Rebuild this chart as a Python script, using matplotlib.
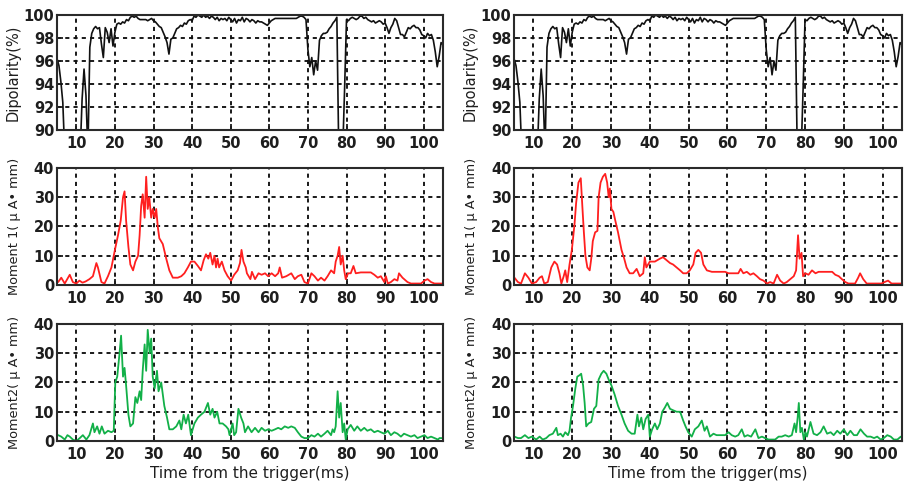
"""
Dipolarity and moment traces vs. time from the trigger (two shots side by side)
"""
import numpy as np
import matplotlib.pyplot as plt

# dipolarity (%), sampled every 0.5 ms from 5 ms; values < 90 fall off the axis
dipolarity = [
    96.2, 95.6, 94.2, 92.4, 88, 88, 88, 88, 88, 88, 88, 88, 88, 92.7, 95.3, 93.0, 88, 97.2, 98.4, 98.8,
    99.0, 98.8, 98.9, 97.5, 96.3, 98.9, 98.5, 97.6, 98.8, 97.3, 98.5, 99.2, 99.3, 99.2, 99.4, 99.3, 99.6, 99.5, 99.8, 99.9,
    99.8, 99.9, 99.7, 99.6, 99.6, 99.6, 99.6, 99.5, 99.6, 99.7, 99.5, 99.4, 99.2, 99.0, 98.9, 98.5, 98.1, 97.6, 96.6, 97.9,
    98.0, 98.4, 98.8, 98.9, 99.1, 99.0, 99.3, 99.2, 99.5, 99.6, 99.5, 99.9, 99.8, 100.0, 99.9, 99.8, 100.0, 99.8, 99.9, 99.7,
    99.9, 99.8, 99.6, 99.8, 99.5, 99.7, 99.6, 99.7, 99.5, 99.8, 99.6, 99.4, 99.7, 99.3, 99.6, 99.5, 99.8, 99.4, 99.7, 99.6,
    99.4, 99.6, 99.5, 99.3, 99.5, 99.4, 99.4, 99.3, 99.2, 99.1, 99.3, 99.5, 99.6, 99.7, 99.7, 99.7, 99.7, 99.7, 99.7, 99.7,
    99.7, 99.7, 99.7, 99.7, 99.7, 99.8, 99.9, 99.9, 99.8, 99.6, 97.0, 95.5, 96.3, 94.8, 96.0, 95.2, 97.8, 98.2, 98.4, 98.4,
    98.5, 98.8, 99.0, 99.3, 99.5, 99.8, 88, 88, 88, 93.5, 99.6, 99.5, 99.7, 99.8, 99.7, 99.6, 99.7, 99.9, 99.9, 99.7,
    99.8, 99.6, 99.5, 99.4, 99.5, 99.3, 99.4, 99.5, 99.4, 99.2, 99.3, 98.9, 98.4, 98.9, 99.2, 99.7, 99.5, 98.9, 98.3, 98.3,
    98.1, 98.5, 98.9, 98.8, 99.0, 99.1, 98.9, 98.9, 98.7, 98.3, 98.2, 98.0, 98.4, 98.2, 98.3, 97.8, 96.8, 95.5, 96.4, 97.6, 97.4,
]

# (time ms, moment uA*mm)
moment1_left = [
    (5.0, 1.5), (5.3, 1.0), (6.1, 2.5), (7.0, 0.5), (8.3, 3.5), (9.1, 1.0), (10.0, 0.5), (10.8, 1.5), (11.6, 0.8),
    (12.4, 1.2), (13.4, 2.0), (14.3, 3.0), (15.2, 7.5), (15.6, 6.0), (16.5, 1.0), (17.3, 0.5), (18.2, 3.0), (19.1, 6.0),
    (20.0, 12.0), (20.8, 17.0), (21.5, 22.0), (22.1, 30.0), (22.5, 32.0), (22.9, 22.0), (23.5, 13.0), (24.0, 7.0),
    (24.7, 5.0), (25.3, 8.0), (26.0, 10.0), (26.4, 17.0), (26.8, 27.0), (27.2, 31.0), (27.7, 23.0), (28.1, 37.0),
    (28.5, 26.0), (28.9, 30.0), (29.4, 23.0), (29.8, 26.0), (30.3, 23.0), (30.7, 26.0), (31.1, 20.0), (31.5, 16.0),
    (32.4, 14.0), (33.3, 9.0), (34.1, 5.0), (35.0, 2.5), (36.3, 2.5), (37.2, 3.0), (38.0, 4.0), (38.9, 6.0), (39.7, 8.0),
    (40.6, 8.0), (41.5, 6.5), (42.3, 5.0), (43.0, 8.5), (43.6, 10.5), (44.2, 9.0), (44.7, 11.0), (45.3, 7.0), (45.8, 10.0),
    (46.2, 6.0), (46.6, 9.0), (47.0, 6.0), (47.7, 8.0), (48.4, 5.0), (49.2, 3.0), (50.1, 1.5), (50.9, 3.5), (51.8, 5.0),
    (52.4, 7.5), (52.8, 12.0), (53.3, 8.0), (53.9, 6.0), (54.2, 4.0), (55.1, 2.0), (55.5, 4.5), (56.3, 2.0), (57.2, 4.0),
    (58.0, 3.5), (58.9, 4.0), (59.7, 3.0), (60.6, 4.0), (61.5, 3.0), (62.3, 4.0), (62.7, 6.0), (63.3, 2.5), (64.4, 3.0),
    (65.7, 4.0), (66.6, 2.0), (67.4, 3.0), (68.3, 3.5), (69.1, 1.0), (70.0, 0.5), (70.9, 4.0), (71.7, 3.0), (72.6, 1.5),
    (73.4, 2.5), (74.3, 1.5), (75.1, 3.0), (76.0, 5.0), (76.8, 4.0), (77.2, 8.0), (77.7, 10.0), (78.1, 13.0), (78.5, 7.0),
    (79.0, 10.0), (79.4, 5.0), (79.8, 2.0), (80.4, 4.0), (81.1, 4.0), (81.8, 6.5), (82.4, 4.0), (83.7, 4.3), (85.0, 4.3),
    (86.3, 4.3), (87.2, 3.5), (88.1, 2.5), (88.9, 3.0), (89.8, 1.0), (90.2, 3.0), (90.7, 0.5), (91.5, 1.0), (92.4, 2.0),
    (93.2, 1.5), (93.6, 4.0), (94.5, 2.5), (95.8, 1.0), (96.7, 0.5), (98.0, 0.5), (99.3, 0.5), (100.2, 1.5), (101.0, 2.0),
    (101.9, 1.0), (102.8, 0.5), (104.0, 0.5), (105.0, 0.5),
]

moment2_left = [
    (5.0, 2.0), (5.3, 2.0), (6.1, 1.5), (7.0, 0.5), (7.7, 2.0), (8.3, 1.5), (9.1, 0.5), (10.0, 0.0), (10.9, 1.0),
    (11.7, 2.0), (12.6, 0.5), (13.4, 2.0), (14.3, 6.0), (14.7, 3.0), (15.4, 5.0), (16.0, 2.5), (16.6, 5.0), (17.3, 2.5),
    (18.2, 3.5), (19.1, 3.0), (19.7, 3.5), (20.1, 20.0), (20.6, 22.0), (21.2, 30.0), (21.6, 36.0), (22.1, 22.0),
    (22.5, 25.0), (22.9, 19.0), (23.5, 9.0), (24.0, 5.0), (24.7, 6.0), (25.3, 15.0), (25.8, 13.0), (26.4, 17.0),
    (26.8, 14.0), (27.2, 24.0), (27.7, 33.0), (28.1, 24.0), (28.5, 38.0), (29.0, 30.0), (29.4, 35.0), (29.8, 22.0),
    (30.3, 18.0), (30.9, 24.0), (31.3, 17.0), (32.0, 20.0), (32.8, 12.0), (33.5, 8.0), (34.1, 4.0), (35.0, 4.0),
    (35.9, 5.0), (36.7, 7.0), (37.2, 4.0), (37.8, 9.0), (38.4, 6.0), (39.0, 9.0), (39.7, 2.0), (40.6, 6.0), (41.5, 8.0),
    (42.3, 9.0), (43.2, 10.0), (44.1, 13.0), (44.7, 9.0), (45.3, 11.0), (45.8, 8.0), (46.5, 10.0), (47.1, 6.0),
    (47.9, 6.0), (48.8, 5.0), (49.4, 4.0), (49.7, 2.0), (50.5, 6.0), (50.9, 2.0), (51.4, 3.0), (52.0, 11.0), (52.7, 8.0),
    (53.3, 6.0), (53.7, 3.0), (54.5, 5.0), (55.4, 3.0), (56.3, 4.5), (57.2, 3.0), (58.0, 4.5), (58.9, 3.5), (59.7, 4.0),
    (60.6, 3.5), (61.5, 4.0), (62.3, 4.5), (63.1, 4.0), (64.0, 5.0), (64.9, 4.5), (65.7, 5.0), (66.6, 4.5), (67.4, 3.0),
    (68.3, 1.5), (69.1, 1.0), (70.0, 1.0), (70.9, 2.0), (71.7, 1.5), (72.6, 2.5), (73.4, 1.5), (74.3, 2.5), (75.1, 3.5),
    (76.0, 2.0), (76.4, 4.0), (76.8, 3.0), (77.2, 5.0), (77.7, 17.0), (78.1, 8.0), (78.5, 13.0), (79.0, 3.0), (79.4, 6.0),
    (79.8, 0.5), (80.3, 4.0), (81.1, 5.5), (82.0, 3.5), (82.8, 5.0), (83.7, 3.5), (84.6, 4.5), (85.4, 3.5), (86.3, 4.0),
    (87.2, 3.0), (88.1, 3.5), (88.9, 3.0), (89.8, 2.5), (90.7, 3.5), (91.5, 2.0), (92.4, 3.0), (93.2, 2.5), (94.1, 1.5),
    (94.9, 2.5), (95.8, 2.0), (96.7, 1.5), (97.6, 2.0), (98.4, 1.0), (99.3, 1.5), (100.2, 2.0), (101.0, 1.0),
    (101.9, 1.5), (102.8, 1.0), (103.7, 0.5), (104.1, 1.0), (105.0, 1.0),
]

moment1_right = [
    (5.0, 2.5), (5.1, 2.5), (6.0, 1.0), (6.8, 0.5), (7.8, 4.0), (8.7, 2.5), (9.6, 0.5), (10.7, 1.0), (11.6, 2.5),
    (12.2, 3.0), (12.8, 0.5), (13.7, 1.0), (14.6, 6.0), (15.4, 8.0), (16.1, 7.0), (16.7, 4.0), (17.2, 0.5), (17.8, 3.0),
    (18.2, 5.0), (18.7, 1.0), (19.3, 7.0), (19.9, 12.0), (20.6, 21.0), (21.0, 28.0), (21.6, 35.0), (22.2, 36.5),
    (22.6, 27.0), (23.0, 18.0), (23.4, 10.0), (23.9, 6.0), (24.5, 5.0), (24.9, 9.0), (25.3, 15.0), (25.9, 18.0),
    (26.5, 18.5), (26.8, 30.0), (27.3, 35.0), (27.9, 37.0), (28.5, 38.0), (29.0, 35.0), (29.4, 30.0), (29.7, 33.0),
    (30.1, 26.0), (30.6, 25.0), (31.1, 22.0), (31.8, 18.0), (32.7, 12.0), (33.4, 9.0), (34.0, 6.0), (34.8, 4.0),
    (35.7, 4.0), (36.6, 5.5), (37.4, 3.0), (38.3, 4.0), (38.7, 9.5), (39.1, 6.0), (40.0, 8.0), (41.3, 8.0), (42.6, 9.0),
    (43.4, 9.5), (44.3, 8.5), (45.2, 7.5), (46.0, 7.0), (46.9, 6.0), (47.8, 5.0), (48.6, 4.0), (49.5, 4.0), (50.3, 5.0),
    (51.2, 7.0), (51.8, 11.0), (52.5, 12.0), (53.2, 11.0), (53.8, 7.0), (54.7, 5.0), (56.0, 4.5), (59.4, 4.5),
    (60.3, 4.0), (62.8, 4.0), (63.4, 5.5), (64.1, 4.0), (65.0, 4.5), (65.9, 3.5), (66.7, 4.0), (67.6, 3.0), (68.4, 2.0),
    (69.3, 1.5), (70.2, 0.5), (71.0, 1.0), (71.9, 0.5), (72.8, 3.5), (73.6, 1.5), (74.5, 0.5), (75.3, 1.0), (76.2, 2.0),
    (77.1, 3.0), (77.7, 5.0), (78.2, 17.0), (78.6, 9.0), (79.1, 11.0), (79.5, 3.0), (80.1, 4.0), (80.9, 3.5),
    (81.8, 5.0), (82.7, 4.0), (83.5, 4.5), (87.0, 4.5), (87.8, 3.5), (88.7, 3.0), (89.5, 2.0), (90.4, 1.0), (91.2, 0.5),
    (92.9, 0.5), (93.7, 2.5), (94.2, 4.0), (95.0, 2.0), (95.9, 0.5), (99.7, 0.5), (100.5, 1.0), (101.4, 1.5),
    (102.3, 0.5), (105.0, 0.5),
]

moment2_right = [
    (5.0, 1.5), (5.1, 1.5), (6.0, 1.0), (6.8, 1.0), (7.8, 2.0), (8.7, 1.0), (9.6, 1.5), (10.7, 0.5), (11.6, 1.5),
    (12.4, 0.5), (13.3, 1.0), (14.1, 2.0), (15.0, 2.5), (15.9, 4.5), (16.3, 2.0), (17.0, 2.5), (17.6, 1.5), (18.2, 3.0),
    (18.9, 2.0), (19.3, 3.5), (19.7, 8.0), (20.2, 12.0), (20.8, 18.0), (21.3, 22.0), (21.9, 22.5), (22.3, 23.0),
    (22.8, 19.0), (23.2, 13.0), (23.6, 5.0), (24.2, 6.0), (24.9, 6.5), (25.6, 11.0), (26.2, 12.0), (26.8, 21.0),
    (27.5, 23.0), (28.1, 24.0), (28.8, 23.0), (29.4, 21.0), (30.1, 19.0), (30.9, 16.0), (31.8, 12.0), (32.7, 9.0),
    (33.5, 6.0), (34.4, 3.5), (35.3, 2.5), (36.1, 2.5), (36.8, 9.0), (37.2, 5.0), (37.8, 8.0), (38.3, 4.0), (38.9, 7.5),
    (39.6, 9.0), (40.0, 1.5), (40.6, 4.0), (41.3, 6.0), (41.9, 4.0), (42.6, 6.0), (43.2, 10.0), (43.9, 11.5),
    (44.5, 13.0), (45.2, 11.0), (46.0, 10.5), (46.9, 10.0), (47.8, 10.0), (48.6, 7.0), (49.2, 5.0), (49.9, 3.0),
    (50.8, 1.5), (51.6, 4.0), (52.5, 5.0), (53.4, 7.0), (54.1, 3.5), (54.7, 5.0), (55.5, 1.5), (56.4, 2.5), (57.2, 2.0),
    (59.4, 2.0), (60.3, 3.0), (61.1, 2.0), (62.0, 1.5), (62.8, 2.0), (63.7, 4.0), (64.4, 1.5), (65.2, 2.0), (66.1, 1.5),
    (67.2, 4.0), (68.0, 1.0), (68.9, 1.5), (69.7, 1.0), (70.6, 0.5), (72.3, 0.5), (73.2, 1.5), (74.0, 1.5), (74.9, 2.0),
    (75.8, 1.5), (76.6, 2.0), (77.3, 6.0), (77.7, 3.0), (78.1, 8.0), (78.4, 13.0), (78.8, 3.0), (79.2, 4.5), (79.7, 0.5),
    (80.1, 3.0), (80.5, 1.5), (81.4, 6.5), (82.2, 2.5), (83.1, 2.0), (84.0, 3.0), (84.8, 5.0), (85.7, 2.5), (86.6, 3.0),
    (87.4, 2.0), (88.3, 3.5), (89.1, 2.5), (90.0, 4.0), (90.9, 2.0), (91.7, 3.5), (92.6, 2.0), (93.4, 2.0), (94.3, 4.0),
    (95.2, 2.5), (96.0, 1.5), (96.9, 1.5), (97.8, 1.0), (98.6, 1.5), (99.5, 0.5), (100.3, 1.0), (101.2, 2.0),
    (102.1, 1.5), (102.9, 0.5), (103.8, 0.5), (104.7, 1.5), (105.0, 1.0),
]

x_ticks = [10, 20, 30, 40, 50, 60, 70, 80, 90, 100]
dip_ticks = [90, 92, 94, 96, 98, 100]
moment_ticks = [0, 10, 20, 30, 40]

dip_label = 'Dipolarity(%)'
m1_label = 'Moment 1( μ A• mm)'
m2_label = 'Moment2( μ A• mm)'
time_label = 'Time from the trigger(ms)'

TEXT_C = '#1e1e1e'


def style_axes(ax, yticks, ylabel, label_size):
    """MATLAB-like look: box, dashed black grid, inward ticks."""
    ax.set_xlim(5, 105)
    ax.set_ylim(yticks[0], yticks[-1])
    ax.set_xticks(x_ticks)
    ax.set_yticks(yticks)
    ax.grid(True, color='#111111', linestyle=(0, (2.2, 2.2)), linewidth=1.35)
    ax.tick_params(direction='in', length=4, width=1.3, labelsize=10.5, colors=TEXT_C)
    ax.tick_params(axis='x', pad=4)
    ax.tick_params(axis='y', pad=2)
    for lab in ax.get_xticklabels() + ax.get_yticklabels():
        lab.set_fontweight('bold')
    for sp in ax.spines.values():
        sp.set_linewidth(1.5)
        sp.set_color('#2a2a2a')
    ax.set_ylabel(ylabel, fontsize=label_size, color=TEXT_C)
    ax.yaxis.set_label_coords(-0.093, 0.5)


def draw_pairs(ax, pairs, color):
    t, v = zip(*pairs)
    ax.plot(t, v, color=color, linewidth=1.3)


fig = plt.figure(figsize=(9.05, 4.88), dpi=100)

col_x = [0.063, 0.568]
col_w = [0.4265, 0.4287]
row_y = [0.7336, 0.416, 0.0963]
row_h = [0.2357, 0.2398, 0.2398]

dip_t = 5 + 0.5 * np.arange(len(dipolarity))
moments = [(moment1_left, moment2_left), (moment1_right, moment2_right)]

for c in range(2):
    ax_d = fig.add_axes([col_x[c], row_y[0], col_w[c], row_h[0]])
    ax_d.plot(dip_t, dipolarity, color='#111111', linewidth=1.2)
    style_axes(ax_d, dip_ticks, dip_label, 10.5)

    ax_1 = fig.add_axes([col_x[c], row_y[1], col_w[c], row_h[1]])
    draw_pairs(ax_1, moments[c][0], '#ff1f1f')
    style_axes(ax_1, moment_ticks, m1_label, 9.3)

    ax_2 = fig.add_axes([col_x[c], row_y[2], col_w[c], row_h[2]])
    draw_pairs(ax_2, moments[c][1], '#12b048')
    style_axes(ax_2, moment_ticks, m2_label, 9.3)
    ax_2.set_xlabel(time_label, fontsize=11, color=TEXT_C, labelpad=3)

fig.savefig('out.png', dpi=100, facecolor='white')
